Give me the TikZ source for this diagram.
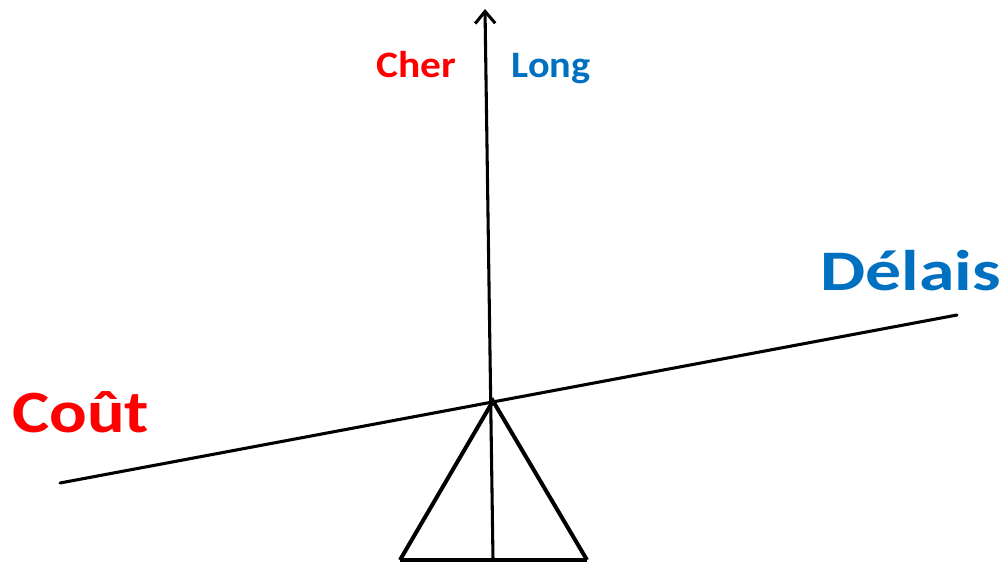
\documentclass[tikz,border=0pt]{standalone}
\usepackage{fontspec}
\setmainfont{Carlito}
\usetikzlibrary{arrows.meta, positioning}
\definecolor{kred}{HTML}{FF0000}
\definecolor{kblue}{HTML}{0070C0}
\newcommand{\wide}[2]{\scalebox{#1}[1]{#2}}

\begin{document}
\begin{tikzpicture}[x=0.75pt, y=-0.75pt,
  bar/.style={line width=2.3pt, line cap=round},
  leg/.style={line width=3pt},
  small/.style={font=\fontsize{28}{30}\selectfont\bfseries, inner sep=0pt, anchor=base},
  big/.style={font=\fontsize{43}{46}\selectfont\bfseries, inner sep=0pt, anchor=base west}]
\useasboundingbox (0,0) rectangle (1005,562);
% points of the scale
\coordinate (pivot) at (493,401);
\coordinate (beamL) at (60,483);
\coordinate (beamR) at (957,315);
\coordinate (baseL) at (400,560);
\coordinate (baseR) at (587,560);
\coordinate (foot) at (493,560);
\coordinate (top) at (485,9);
% stand
\draw[leg, line join=miter] (baseL) -- (pivot) -- (baseR);
\draw[leg] (baseL) -- (baseR);
% beam and axis
\draw[bar] (beamL) -- (beamR);
\draw[bar, -{Straight Barb[length=9pt, width=15pt, line width=2.3pt]}] (foot) -- (top);
% labels
\node[small, text=kred] (cher) at (416,77) {\wide{1.11}{Cher}};
\node[small, text=kblue] (long) at (551,77) {\wide{1.08}{Long}};
\node[big, text=kred, font=\fontsize{45}{48}\selectfont\bfseries] (cout) at (12,432) {\wide{1.17}{Coût}};
\node[big, text=kblue] (delais) at (820,290) {\wide{1.25}{Délais}};
\end{tikzpicture}
\end{document}
